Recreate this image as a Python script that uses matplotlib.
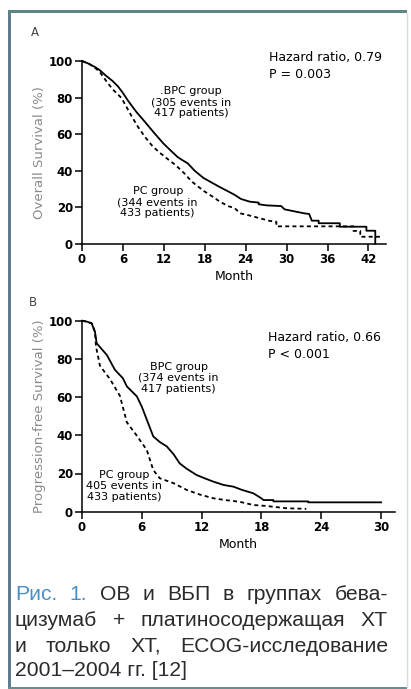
import numpy as np
import matplotlib
matplotlib.use('Agg')
import matplotlib.pyplot as plt
from matplotlib.lines import Line2D
from matplotlib.patches import Rectangle

# panel A: overall survival (months, %)
os_bpc_t = [0, 1, 2, 2.6, 3.5, 4.5, 5.3, 6.0, 6.8, 8, 9.2, 10.5, 11.9, 13, 14, 14.6, 15.5, 16.5,
            17.8, 19, 20.2, 21.5, 22.4, 23.3, 24.6, 25.9, 25.9, 27, 29.2, 29.7, 32.6, 33.3, 33.7,
            34.7, 34.7, 37.8, 37.8, 41.7, 41.7, 43.0, 43.0]
os_bpc_s = [100, 98.5, 96.5, 95, 92, 89, 86, 82.5, 78, 72, 66.8, 61, 55, 51, 47.5, 46, 44, 40,
            36, 33.5, 31, 28.5, 26.7, 24.5, 23, 22.5, 21.6, 21, 20.6, 18.8, 16.6, 16.3, 12.6,
            12.6, 11.2, 11.2, 9.3, 9.3, 7.1, 7.1, 0]
os_pc_t = [0, 1, 2, 2.6, 3.6, 4.5, 5.8, 6.5, 7.3, 8.2, 9.2, 10.2, 11.2, 12.5, 13.7, 15, 16.1,
           17.8, 19.5, 20.2, 21.5, 22.4, 23.2, 24.5, 26, 27.5, 28.5, 28.5, 39.8, 39.8, 40.8,
           40.8, 43.9]
os_pc_s = [100, 98.5, 96, 94, 88.8, 84.5, 79.7, 75, 69.6, 64, 58.6, 54, 50.4, 46.5, 43.1, 38.5,
           34, 29, 24.9, 23, 20.5, 19.4, 16.6, 15.5, 14, 12.5, 12, 9.5, 9.5, 7, 7, 3.8, 3.8]

# panel B: progression-free survival
pfs_bpc_t = [0, 0.5, 0.97, 1.3, 1.47, 2.0, 2.5, 3.3, 4.1, 4.5, 5.5, 6.0, 6.5, 7.15, 7.8, 8.5,
             9.2, 9.8, 10.5, 11.5, 12.3, 13.2, 14.2, 15.2, 16, 17.2, 18.0, 18.2, 19.2, 19.2,
             22.7, 22.7, 30.0]
pfs_bpc_s = [100, 99.5, 98.6, 94.2, 88.2, 85, 82, 74.3, 69.9, 65.6, 60.4, 55, 48.2, 39.4, 36.5,
             34.2, 30, 25.3, 22.5, 19.2, 17.5, 15.7, 14, 13.1, 11.5, 9.6, 7, 6.1, 6.1, 5.4,
             5.4, 4.9, 4.9]
pfs_pc_t = [0, 0.5, 0.97, 1.3, 1.4, 1.8, 2.8, 3.8, 4.5, 5.5, 6.5, 7.15, 7.8, 9.2, 10.5, 11.8,
            13.2, 14.5, 15.8, 17.2, 18.5, 20.5, 22.5]
pfs_pc_s = [100, 99.5, 98.6, 94.2, 86.6, 76.4, 69.5, 60.7, 46.8, 39.8, 32.3, 21.8, 17.5, 14.9,
            11.4, 9, 7, 6, 5.2, 3.5, 3.0, 1.8, 1.5]

W, H = 411, 689
fig = plt.figure(figsize=(W / 100, H / 100), dpi=100)
fig.patch.set_facecolor('white')


def px(x0, y0, x1, y1):
    # figure rectangle from pixel coords (top-left origin)
    return [x0 / W, 1 - y1 / H, (x1 - x0) / W, (y1 - y0) / H]


def panel(rect, xmax, xticks, t1, s1, t2, s2, ylabel):
    ax = fig.add_axes(rect)
    ax.plot(t1, s1, color='black', lw=1.3, clip_on=False)
    ax.plot(t2, s2, color='black', lw=1.3, ls=(0, (2.2, 1.8)), clip_on=False)
    ax.set_xlim(0, xmax)
    ax.set_ylim(0, 100)
    ax.set_xticks(xticks)
    ax.set_yticks(range(0, 101, 20))
    for s in ['top', 'right']:
        ax.spines[s].set_visible(False)
    for s in ['left', 'bottom']:
        ax.spines[s].set_linewidth(1.1)
    ax.tick_params(direction='out', length=5, width=1.1, pad=1.5, labelsize=8.5)
    for lab in ax.get_xticklabels() + ax.get_yticklabels():
        lab.set_fontweight('bold')
    ax.set_xlabel('Month', fontsize=9, labelpad=3)
    ax.set_ylabel(ylabel, fontsize=9.5, color='#8a8a8a', labelpad=2)
    return ax


axA = panel(px(82, 61, 385.5, 243.7), 44.5, range(0, 43, 6),
            os_bpc_t, os_bpc_s, os_pc_t, os_pc_s, 'Overall Survival (%)')
axA.text(0.615, 0.97, 'Hazard ratio, 0.79\nP = 0.003', transform=axA.transAxes,
         fontsize=9, va='center', ha='left', linespacing=1.4)
axA.text(16, 77.5, '.BPC group\n(305 events in\n417 patients)', fontsize=8,
         ha='center', va='center', linespacing=1.1)
axA.text(11.1, 22.8, 'PC group\n(344 events in\n433 patients)', fontsize=8,
         ha='center', va='center', linespacing=1.1)
fig.text(35 / W, 1 - 33 / H, 'A', fontsize=8.5, color='#444444', ha='center', va='center')

axB = panel(px(82, 320.7, 395, 511.7), 31.4, range(0, 31, 6),
            pfs_bpc_t, pfs_bpc_s, pfs_pc_t, pfs_pc_s, 'Progression-free Survival (%)')
axB.text(0.595, 0.868, 'Hazard ratio, 0.66\nP < 0.001', transform=axB.transAxes,
         fontsize=9, va='center', ha='left', linespacing=1.45)
axB.text(9.7, 70, 'BPC group\n(374 events in\n417 patients)', fontsize=8,
         ha='center', va='center', linespacing=1.1)
axB.text(4.2, 13.5, 'PC group\n405 events in\n433 patients)', fontsize=8,
         ha='center', va='center', linespacing=1.1)
fig.text(33 / W, 1 - 303 / H, 'B', fontsize=8.5, color='#444444', ha='center', va='center')

# frame around the figure
fig.add_artist(Rectangle((8 / W, 1 - 689 / H), 3 / W, (689 - 10) / H,
                         transform=fig.transFigure, color='#5f7d8c', lw=0))
fig.add_artist(Rectangle((8 / W, 1 - 13 / H), (407 - 8) / W, 3 / H,
                         transform=fig.transFigure, color='#5e8585', lw=0))
fig.add_artist(Rectangle((8 / W, 1 - 689 / H), (407 - 8) / W, 2.5 / H,
                         transform=fig.transFigure, color='#6a8c8f', lw=0))
fig.add_artist(Line2D([407 / W, 407 / W], [1 - 13 / H, 1 - 687 / H],
                      transform=fig.transFigure, color='#d5dde0', lw=1))

# caption, justified
cap_lines = [
    [('Рис.', '#4a8fc4'), ('1.', '#4a8fc4'), ('ОВ', None), ('и', None), ('ВБП', None),
     ('в', None), ('группах', None), ('бева-', None)],
    [('цизумаб', None), ('+', None), ('платиносодержащая', None), ('ХТ', None)],
    [('и', None), ('только', None), ('ХТ,', None), ('ECOG-исследование', None)],
]
cap_last = '2001–2004 гг. [12]'
cap_y = [595, 621, 646, 670]
x_left, x_right = 15, 388
cap_size = 15.2
cap_col = '#2b2b2b'
cap_font = 'Liberation Sans'

renderer = fig.canvas.get_renderer()
for words, y in zip(cap_lines, cap_y):
    texts = []
    for w, c in words:
        t = fig.text(0, 1 - y / H, w, fontsize=cap_size, family=cap_font,
                     color=c or cap_col, va='center', ha='left')
        texts.append(t)
    widths = [t.get_window_extent(renderer).width for t in texts]
    gap = (x_right - x_left - sum(widths)) / (len(texts) - 1)
    x = x_left
    for t, wd in zip(texts, widths):
        t.set_x(x / W)
        x += wd + gap
fig.text(x_left / W, 1 - cap_y[3] / H, cap_last, fontsize=cap_size, family=cap_font,
         color=cap_col, va='center', ha='left')

fig.savefig('out.png', dpi=100)
